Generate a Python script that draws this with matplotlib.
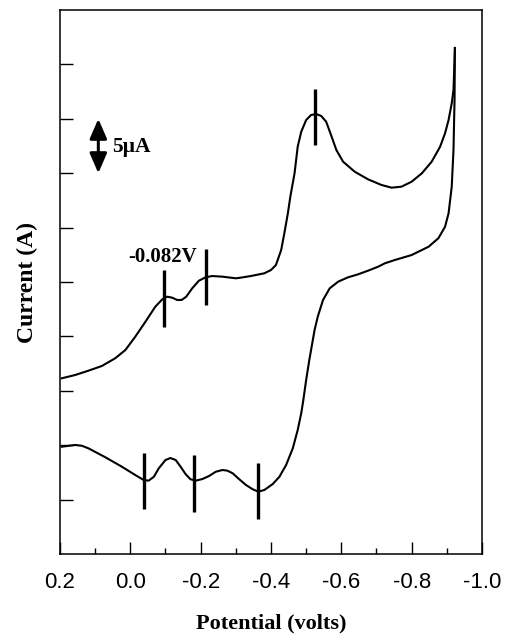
import numpy as np
import matplotlib
matplotlib.use("Agg")
import matplotlib.pyplot as plt

# forward (upper) branch: potential (V) and current (uA, offset)
upper_v = [0.195, 0.157, 0.119, 0.081, 0.043, 0.014, -0.014, -0.043, -0.071, -0.091,
           -0.105, -0.119, -0.133, -0.146, -0.159, -0.176, -0.195, -0.214, -0.233, -0.262,
           -0.300, -0.314, -0.343, -0.381, -0.400, -0.414, -0.429, -0.438, -0.448, -0.455,
           -0.467, -0.476, -0.486, -0.500, -0.514, -0.529, -0.543, -0.557, -0.569, -0.586,
           -0.605, -0.638, -0.676, -0.714, -0.743, -0.771, -0.800, -0.829, -0.857, -0.881,
           -0.895, -0.905, -0.914, -0.919, -0.921, -0.923]
upper_i = [16.15, 16.45, 16.85, 17.28, 17.99, 18.75, 19.97, 21.35, 22.73, 23.41,
           23.65, 23.56, 23.35, 23.35, 23.65, 24.42, 25.12, 25.43, 25.55, 25.49,
           25.34, 25.40, 25.55, 25.80, 26.10, 26.56, 27.94, 29.48, 31.31, 32.84,
           34.99, 37.44, 38.81, 39.89, 40.35, 40.44, 40.26, 39.73, 38.67, 37.13,
           36.06, 35.14, 34.44, 33.92, 33.67, 33.76, 34.22, 34.99, 36.06, 37.44,
           38.67, 39.89, 41.42, 42.65, 44.49, 46.51]

# return (lower) branch
lower_v = [0.195, 0.157, 0.138, 0.119, 0.071, 0.024, -0.014, -0.038, -0.052, -0.067,
           -0.081, -0.100, -0.114, -0.129, -0.143, -0.157, -0.171, -0.186, -0.205, -0.224,
           -0.243, -0.262, -0.276, -0.291, -0.309, -0.329, -0.348, -0.364, -0.381, -0.405,
           -0.424, -0.443, -0.462, -0.476, -0.486, -0.492, -0.500, -0.509, -0.524, -0.533,
           -0.548, -0.567, -0.591, -0.619, -0.648, -0.676, -0.705, -0.724, -0.752, -0.800,
           -0.848, -0.876, -0.895, -0.905, -0.914, -0.919, -0.922, -0.923]
lower_i = [9.86, 10.02, 9.95, 9.71, 8.89, 8.02, 7.26, 6.80, 6.74, 7.10,
           7.88, 8.64, 8.82, 8.64, 8.02, 7.35, 6.87, 6.74, 6.89, 7.17,
           7.56, 7.72, 7.66, 7.42, 6.89, 6.34, 5.95, 5.73, 5.88, 6.43,
           7.10, 8.18, 9.71, 11.40, 12.93, 14.15, 15.99, 17.83, 20.59, 21.81,
           23.35, 24.42, 25.03, 25.43, 25.71, 26.04, 26.41, 26.72, 27.02, 27.48,
           28.24, 29.02, 30.08, 31.31, 33.76, 37.13, 41.73, 46.51]

# peak markers: (potential, bottom, top)
upper_marks = [(-0.097, 20.86, 26.10), (-0.214, 22.89, 28.03), (-0.526, 37.59, 42.74)]
lower_marks = [(-0.040, 4.14, 9.28), (-0.180, 3.86, 9.10), (-0.363, 3.22, 8.36)]

serif = "Liberation Serif"
sans = "Liberation Sans"

fig = plt.figure(figsize=(5.05, 6.34), dpi=100)
ax = fig.add_axes([0.1188, 0.1262, 0.8356, 0.858])

ax.plot(upper_v, upper_i, color="black", lw=1.5, solid_joinstyle="round")
ax.plot(lower_v, lower_i, color="black", lw=1.5, solid_joinstyle="round")

for x, y0, y1 in upper_marks + lower_marks:
    ax.plot([x, x], [y0, y1], color="black", lw=2.4, solid_capstyle="butt")

ax.text(-0.091, 27.3, "-0.082V", family=serif, weight="bold", fontsize=15,
        ha="center", va="center")

# scale bar (5 uA)
ax.annotate("", xy=(0.091, 40.0), xytext=(0.091, 35.0),
            arrowprops=dict(arrowstyle="<|-|>,head_length=0.6,head_width=0.26",
                            lw=2.2, color="black", shrinkA=0, shrinkB=0,
                            mutation_scale=20))
ax.text(0.051, 37.4, "5\u00b5A", family=serif, weight="bold", fontsize=15.5,
        ha="left", va="center")

ax.set_xlim(0.2, -1.0)
ax.set_ylim(0, 50)
ax.set_xticks(np.arange(0.2, -1.01, -0.2))
ax.set_xticks(np.arange(0.1, -1.0, -0.2), minor=True)
ax.set_xticklabels(["0.2", "0.0", "-0.2", "-0.4", "-0.6", "-0.8", "-1.0"],
                   family=sans, fontsize=16)
ax.set_yticks(np.arange(5, 50, 5))
ax.set_yticklabels([])
ax.tick_params(axis="both", which="major", direction="in", length=9, width=1)
ax.tick_params(axis="x", which="minor", direction="in", length=4.5, width=1)
ax.tick_params(axis="x", which="major", pad=13)
for s in ax.spines.values():
    s.set_linewidth(1.1)

ax.set_xlabel("Potential (volts)", family=serif, weight="bold", fontsize=16, labelpad=15)
ax.set_ylabel("Current (A)", family=serif, weight="bold", fontsize=17, labelpad=12)

fig.savefig("out.png", dpi=100)
